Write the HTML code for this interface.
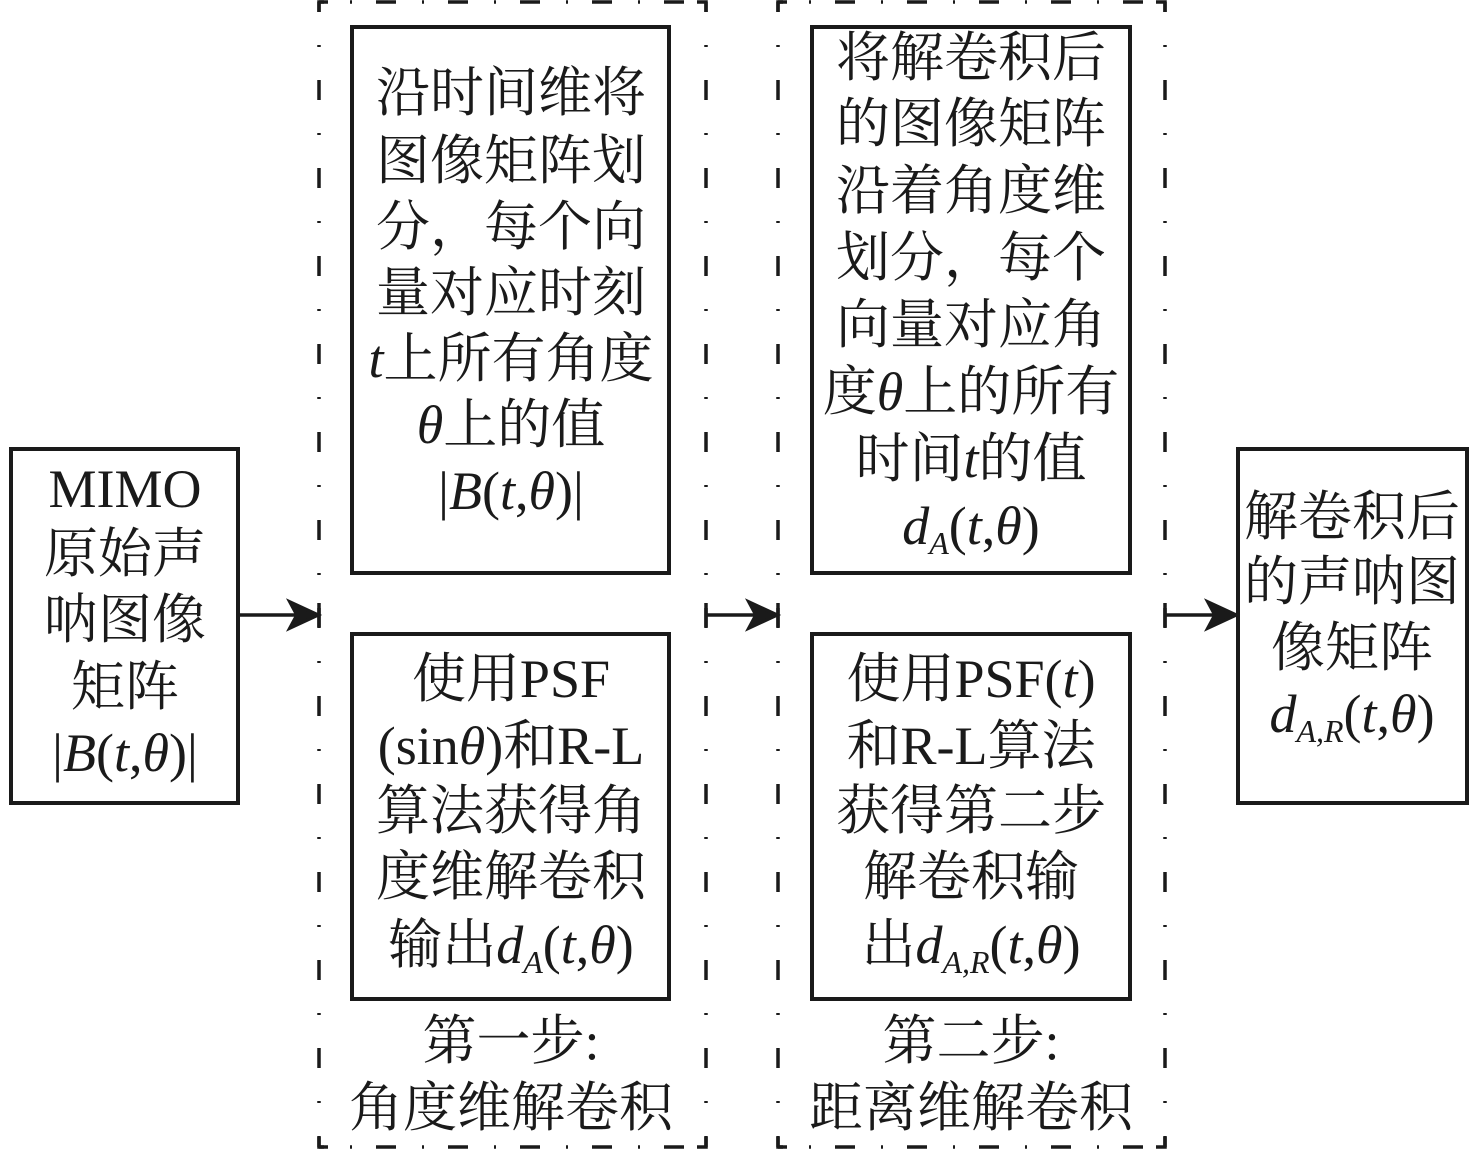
<!DOCTYPE html>
<html><head><meta charset="utf-8"><style>
html,body{margin:0;padding:0;background:#fff;}
svg{display:block;}
text{font-family:"Liberation Serif","Noto Serif CJK SC",serif;font-size:54px;fill:#1a1a1a;text-anchor:middle;}
.i{font-style:italic;}
.s{font-size:32px;font-style:italic;}
</style></head><body>
<svg width="1476" height="1151" viewBox="0 0 1476 1151" xmlns="http://www.w3.org/2000/svg">
<defs><marker id="ar" markerWidth="12" markerHeight="10" refX="11" refY="5" orient="auto" markerUnits="userSpaceOnUse" viewBox="0 0 12 10"><path d="M0,0 L12,5 L0,10 L3,5 Z" fill="#1a1a1a" transform="scale(1)"/></marker></defs>
<g fill="none" stroke="#1a1a1a" stroke-width="4">
<rect x="11" y="449" width="227" height="354"/>
<rect x="1238" y="449" width="229" height="354"/>
<rect x="352" y="27" width="317" height="546"/>
<rect x="352" y="634" width="317" height="365"/>
<rect x="812" y="27" width="318" height="546"/>
<rect x="812" y="634" width="318" height="365"/>
</g>
<g fill="none" stroke="#1a1a1a" stroke-width="3.5">
<!-- dash-dot frames -->
<line x1="319" y1="2" x2="319" y2="1147" stroke-dasharray="20,33,2,33" stroke-dashoffset="10"/>
<line x1="706" y1="2" x2="706" y2="1147" stroke-dasharray="20,33,2,33" stroke-dashoffset="10"/>
<line x1="778" y1="2" x2="778" y2="1147" stroke-dasharray="20,33,2,33" stroke-dashoffset="10"/>
<line x1="1165" y1="2" x2="1165" y2="1147" stroke-dasharray="20,33,2,33" stroke-dashoffset="10"/>
<line x1="319" y1="2" x2="706" y2="2" stroke-dasharray="20,26,2,24" stroke-dashoffset="15"/>
<line x1="319" y1="1147" x2="706" y2="1147" stroke-dasharray="20,26,2,24" stroke-dashoffset="15"/>
<line x1="778" y1="2" x2="1165" y2="2" stroke-dasharray="20,26,2,24" stroke-dashoffset="15"/>
<line x1="778" y1="1147" x2="1165" y2="1147" stroke-dasharray="20,26,2,24" stroke-dashoffset="15"/>
<path d="M319,12 V2 H328 M697,2 H706 V12 M319,1137 V1147 H328 M697,1147 H706 V1137"/>
<path d="M778,12 V2 H787 M1156,2 H1165 V12 M778,1137 V1147 H787 M1156,1147 H1165 V1137"/>
<!-- arrow ticks -->
<line x1="706" y1="603" x2="706" y2="627"/>
<line x1="1165" y1="603" x2="1165" y2="627"/>
<line x1="319" y1="603" x2="319" y2="627"/>
<line x1="778" y1="603" x2="778" y2="627"/>
</g>
<g stroke="#1a1a1a" stroke-width="3.5" fill="#1a1a1a">
<line x1="238" y1="615" x2="300" y2="615"/><path d="M318,615 L290,602 L297,615 L290,628 Z"/>
<line x1="706" y1="615" x2="760" y2="615"/><path d="M777,615 L749,602 L756,615 L749,628 Z"/>
<line x1="1165" y1="615" x2="1218" y2="615"/><path d="M1236,615 L1208,602 L1215,615 L1208,628 Z"/>
</g>

<!-- left box -->
<text x="125" y="507">MIMO</text>
<text x="125" y="572">原始声</text>
<text x="125" y="638">呐图像</text>
<text x="125" y="705">矩阵</text>
<text x="125" y="771">|<tspan class="i">B</tspan>(<tspan class="i">t</tspan>,<tspan class="i">θ</tspan>)|</text>

<!-- box1 -->
<text x="511" y="111">沿时间维将</text>
<text x="511" y="179">图像矩阵划</text>
<text x="511" y="245">分，每个向</text>
<text x="511" y="311">量对应时刻</text>
<text x="511" y="377"><tspan class="i">t</tspan>上所有角度</text>
<text x="511" y="443"><tspan class="i">θ</tspan>上的值</text>
<text x="511" y="509">|<tspan class="i">B</tspan>(<tspan class="i">t</tspan>,<tspan class="i">θ</tspan>)|</text>

<!-- box2 -->
<text x="511" y="697">使用PSF</text>
<text x="511" y="764">(sin<tspan class="i">θ</tspan>)和R-L</text>
<text x="511" y="829">算法获得角</text>
<text x="511" y="895">度维解卷积</text>
<text x="511" y="963">输出<tspan class="i">d</tspan><tspan class="s" dy="10">A</tspan><tspan dy="-10">(</tspan><tspan class="i">t</tspan>,<tspan class="i">θ</tspan>)</text>

<!-- box3 -->
<text x="971" y="76">将解卷积后</text>
<text x="971" y="142">的图像矩阵</text>
<text x="971" y="209">沿着角度维</text>
<text x="971" y="276">划分，每个</text>
<text x="971" y="343">向量对应角</text>
<text x="971" y="410">度<tspan class="i">θ</tspan>上的所有</text>
<text x="971" y="477">时间<tspan class="i">t</tspan>的值</text>
<text x="971" y="544"><tspan class="i">d</tspan><tspan class="s" dy="10">A</tspan><tspan dy="-10">(</tspan><tspan class="i">t</tspan>,<tspan class="i">θ</tspan>)</text>

<!-- box4 -->
<text x="971" y="697">使用PSF(<tspan class="i">t</tspan>)</text>
<text x="971" y="764">和R-L算法</text>
<text x="971" y="829">获得第二步</text>
<text x="971" y="895">解卷积输</text>
<text x="971" y="963">出<tspan class="i">d</tspan><tspan class="s" dy="10">A,R</tspan><tspan dy="-10">(</tspan><tspan class="i">t</tspan>,<tspan class="i">θ</tspan>)</text>

<!-- right box -->
<text x="1352" y="535">解卷积后</text>
<text x="1352" y="600">的声呐图</text>
<text x="1352" y="666">像矩阵</text>
<text x="1352" y="732"><tspan class="i">d</tspan><tspan class="s" dy="10">A,R</tspan><tspan dy="-10">(</tspan><tspan class="i">t</tspan>,<tspan class="i">θ</tspan>)</text>

<!-- captions -->
<text x="511" y="1059">第一步:</text>
<text x="511" y="1126">角度维解卷积</text>
<text x="971" y="1059">第二步:</text>
<text x="971" y="1126">距离维解卷积</text>
</svg>
</body></html>
